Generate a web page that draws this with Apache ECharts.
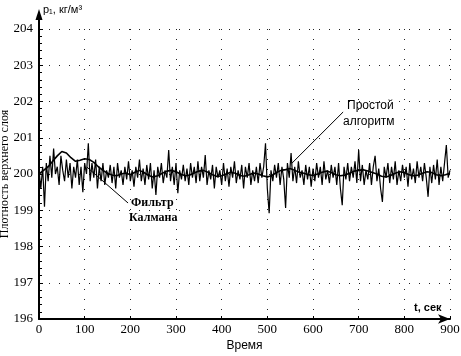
<!DOCTYPE html>
<html>
<head>
<meta charset="utf-8">
<script src="https://cdn.jsdelivr.net/npm/echarts@6/dist/echarts.min.js"></script>
<style>
html, body { margin: 0; padding: 0; background: #fff; }
#chart { width: 461px; height: 356px; }
</style>
</head>
<body>
<div id="chart"></div>
<script>
// простой алгоритм, шаг 4 с
var noiseStep = 4;
var noiseVals = [
	200.1, 199.6, 200.2, 199.1, 200.3, 199.8, 200.5, 199.9, 200.7, 200.0,
	200.2, 199.7, 200.5, 200.1, 199.8, 200.4, 199.9, 200.3, 199.6, 200.2,
	199.9, 200.4, 199.7, 200.2, 199.5, 200.3, 200.0, 200.85, 199.8, 200.3,
	199.9, 200.4, 199.6, 200.2, 199.8, 200.3, 199.7, 200.1, 199.9, 200.25,
	199.75, 200.2, 199.6, 200.3, 199.9, 200.1, 199.7, 200.2, 199.85, 200.35,
	199.8, 200.1, 199.65, 200.2, 199.9, 200.4, 199.8, 200.15, 199.7, 200.25,
	199.85, 200.3, 199.6, 200.1, 199.42, 200.2, 199.9, 200.3, 199.75, 200.1,
	199.9, 200.66, 199.8, 200.2, 199.7, 200.3, 199.47, 200.1, 199.85, 200.25,
	199.8, 200.15, 199.7, 200.3, 199.9, 200.2, 199.75, 200.35, 199.8, 200.2,
	199.9, 200.52, 199.7, 200.1, 199.85, 200.25, 199.6, 200.2, 199.9, 200.1,
	199.7, 200.3, 199.8, 200.15, 199.65, 200.2, 199.9, 200.35, 199.75, 200.1,
	199.85, 200.25, 199.6, 200.2, 199.9, 200.3, 199.7, 200.1, 199.8, 200.2,
	199.75, 200.3, 199.9, 200.2, 200.85, 199.6, 198.92, 200.1, 199.8, 200.25,
	199.9, 200.3, 199.7, 200.2, 199.85, 199.06, 200.3, 199.9, 200.58, 199.8,
	200.2, 199.75, 200.35, 199.9, 200.1, 199.7, 200.25, 199.85, 200.2, 199.65,
	200.15, 199.8, 200.3, 199.9, 200.2, 199.7, 200.35, 199.85, 200.1, 199.75,
	200.25, 199.9, 200.2, 199.7, 200.3, 199.6, 199.14, 200.2, 199.85, 200.3,
	199.8, 200.2, 199.9, 200.35, 199.75, 200.66, 199.8, 200.25, 199.7, 200.1,
	199.85, 200.3, 199.7, 200.2, 200.5, 199.8, 200.15, 199.6, 199.23, 200.2,
	199.9, 200.3, 199.75, 200.2, 199.85, 200.35, 199.7, 200.1, 199.8, 200.25,
	199.9, 200.2, 199.65, 200.3, 199.85, 200.15, 199.75, 200.35, 199.9, 200.2,
	199.8, 200.3, 199.9, 199.37, 200.2, 199.75, 200.25, 199.85, 200.4, 199.7,
	200.2, 199.8, 200.3, 200.8, 199.9, 200.1
];
// фильтр Калмана, шаг 10 с
var kalmanStep = 10;
var kalmanVals = [
	200.0, 200.1, 200.2, 200.35, 200.5, 200.62, 200.58, 200.45, 200.35, 200.38,
	200.42, 200.4, 200.32, 200.2, 200.1, 200.02, 199.97, 199.95, 200.0, 200.03,
	199.98, 200.05, 200.1, 200.04, 199.96, 199.92, 199.95, 200.02, 200.08, 200.1,
	200.06, 200.0, 199.95, 199.97, 200.03, 200.08, 200.1, 200.05, 199.98, 199.93,
	199.95, 200.0, 200.05, 200.02, 199.96, 199.94, 199.98, 200.03, 200.0, 199.95,
	199.92, 199.96, 200.04, 200.1, 200.12, 200.15, 200.1, 200.05, 200.02, 199.98,
	199.96, 200.0, 200.05, 200.08, 200.04, 199.98, 199.95, 199.97, 200.02, 200.08,
	200.1, 200.12, 200.08, 200.04, 200.0, 199.94, 199.92, 199.96, 200.02, 200.06,
	200.04, 199.98, 199.95, 199.97, 200.02, 200.06, 200.04, 199.98, 199.95, 199.98,
	200.02
];
// выноски: [начало, конец] в координатах данных
var kalmanLeader = [[195, 199.2], [105, 200.19]];
var simpleLeader = [[666, 201.71], [554, 200.3]];

var noiseData = [];
for (var i = 0; i < noiseVals.length; i++) {
	noiseData.push([i * noiseStep, noiseVals[i]]);
}
var kalmanData = [];
for (var i = 0; i < kalmanVals.length; i++) {
	kalmanData.push([i * kalmanStep, kalmanVals[i]]);
}

var serif = 'Liberation Serif';
var sans = 'Liberation Sans';

var myChart = echarts.init(document.getElementById('chart'));
myChart.setOption({
	animation: false,
	backgroundColor: '#fff',
	grid: { left: 39, right: 11, top: 29, bottom: 37, containLabel: false, outerBoundsMode: 'none' },
	xAxis: {
		type: 'value',
		min: 0,
		max: 900,
		interval: 100,
		name: 'Время',
		nameLocation: 'middle',
		nameGap: 21,
		nameMoveOverlap: false,
		nameTextStyle: { fontFamily: sans, fontSize: 12, color: '#000' },
		axisLine: { onZero: false, symbol: ['none', 'arrow'], symbolSize: [7, 12], lineStyle: { color: '#000', width: 2 } },
		axisTick: { show: true, inside: true, length: 3, lineStyle: { color: '#000' } },
		axisLabel: { fontFamily: serif, fontSize: 13, color: '#000', margin: 4 },
		splitLine: { show: true, lineStyle: { color: '#222', width: 1, type: [1, 9] } }
	},
	yAxis: {
		type: 'value',
		min: 196,
		max: 204,
		interval: 1,
		name: 'Плотность верхнего слоя',
		nameLocation: 'middle',
		nameGap: 28,
		nameMoveOverlap: false,
		nameTextStyle: { fontFamily: serif, fontSize: 12, color: '#000' },
		axisLine: { show: true, lineStyle: { color: '#000', width: 2 } },
		axisTick: { show: true, inside: true, length: 4, lineStyle: { color: '#000' } },
		minorTick: { show: true, splitNumber: 5, length: 3, lineStyle: { color: '#000' } },
		axisLabel: { fontFamily: serif, fontSize: 13, color: '#000', margin: 6 },
		splitLine: { show: true, lineStyle: { color: '#222', width: 1, type: [1, 9] } }
	},
	series: [
		{
			name: 'Простой алгоритм',
			type: 'line',
			data: noiseData,
			showSymbol: false,
			lineStyle: { color: '#000', width: 1.2 },
			z: 2,
			markLine: {
				silent: true,
				symbol: 'none',
				label: { show: false },
				lineStyle: { color: '#000', width: 1, type: 'solid' },
				data: [
					[{ coord: kalmanLeader[0] }, { coord: kalmanLeader[1] }],
					[{ coord: simpleLeader[0] }, { coord: simpleLeader[1] }]
				]
			}
		},
		{
			name: 'Фильтр Калмана',
			type: 'line',
			data: kalmanData,
			showSymbol: false,
			lineStyle: { color: '#000', width: 1.6 },
			z: 3
		}
	]
});

// стрелка оси Y над 204 и подписи
var top0 = myChart.convertToPixel({ gridIndex: 0 }, [0, 204]);
var ax = top0[0], ay = top0[1];
myChart.setOption({
	graphic: [
		{ type: 'line', shape: { x1: ax, y1: ay, x2: ax, y2: ay - 14 }, style: { stroke: '#000', lineWidth: 2 } },
		{ type: 'polygon', shape: { points: [[ax, ay - 20], [ax - 3.5, ay - 9], [ax + 3.5, ay - 9]] }, style: { fill: '#000' } },
		{ type: 'text', left: ax + 4, top: ay - 25, style: { text: 'p₁, кг/м³', font: '11px ' + sans, fill: '#000' } },
		{ type: 'text', left: 414, top: 302, style: { text: 't, сек', font: 'bold 11px ' + sans, fill: '#000' } },
		{ type: 'text', left: 131, top: 197, style: { text: 'Фильтр', font: 'bold 12px ' + serif, fill: '#000' } },
		{ type: 'text', left: 129, top: 212, style: { text: 'Калмана', font: 'bold 12px ' + serif, fill: '#000' } },
		{ type: 'text', left: 347, top: 100, style: { text: 'Простой', font: '12px ' + sans, fill: '#000' } },
		{ type: 'text', left: 343, top: 116, style: { text: 'алгоритм', font: '12px ' + sans, fill: '#000' } }
	]
});
</script>
</body>
</html>
